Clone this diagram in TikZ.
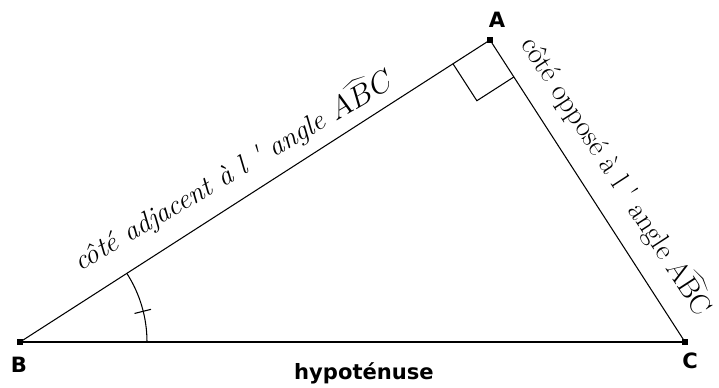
\documentclass[tikz,border=0pt]{standalone}
\usepackage{fontspec}
\newfontfamily\labelfont{DejaVu Sans}
\usetikzlibrary{calc}

\begin{document}
\begin{tikzpicture}[x=0.02cm, y=-0.02cm,
  vertex/.style={fill, inner sep=0pt, minimum size=3pt},
  ptlabel/.style={font=\labelfont\bfseries\fontsize{12}{14}\selectfont},
  side/.style={line width=0.6pt},
  note/.style={font=\fontsize{16}{19}\selectfont, inner sep=0pt}
]
\useasboundingbox (0,0) rectangle (719,387);

% vertices of the triangle
\node[vertex] (A) at (490,40) {};
\node[vertex] (B) at (20,342) {};
\node[vertex] (C) at (685,342) {};
\node[ptlabel] (labA) at (497,20) {A};
\node[ptlabel] (labB) at (19,365) {B};
\node[ptlabel] (labC) at (690,361) {C};

% sides
\draw[side] (B) -- (A);
\draw[side] (A) -- (C);
\draw[line width=1.1pt] (B) -- (C);

% right angle at A
\coordinate (ra1) at ($(A)!0.88cm!(B)$);
\coordinate (ra2) at ($(A)!0.88cm!(C)$);
\draw[side] (ra1) -- ($(ra1)+(ra2)-(A)$) -- (ra2);

% angle ABC with its tick
\draw[side] ($(B)+(127,0)$) arc[start angle=0, end angle=-32.7, radius=127];
\draw[side] ($(B)+(-14:118)$) -- ($(B)+(-14:135)$);

% texts
\node[note, rotate=30.5, anchor=base west] (adj) at (80,272)
  {\itshape côté adjacent à l \textquotesingle{} angle $\widehat{ABC}$};
\node[note, font=\fontsize{16.5}{19}\selectfont, rotate=-57, anchor=base west] (opp) at (520,44)
  {côté opposé à l \textquotesingle{} angle $\widehat{\mathrm{ABC}}$};
\node[ptlabel] (hyp) at (364,373) {hypoténuse};

\end{tikzpicture}
\end{document}
